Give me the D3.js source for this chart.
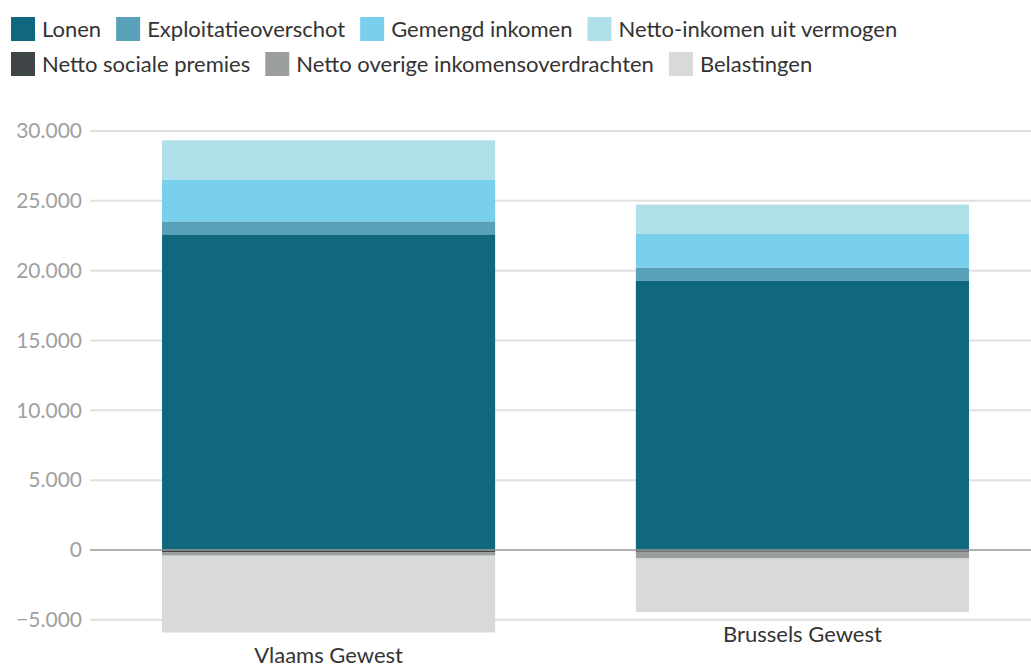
<!DOCTYPE html>
<html><head><meta charset="utf-8">
<script src="https://cdn.jsdelivr.net/npm/d3@7"></script>
<style>
body{margin:0;background:#fff;font-family:Lato,"Noto Sans",sans-serif;}
svg{display:block}
</style></head>
<body><svg id="c" width="1031" height="666"></svg>
<script>
const categories = ["Vlaams Gewest", "Brussels Gewest"];
const seriesNames = ["Lonen", "Exploitatieoverschot", "Gemengd inkomen", "Netto-inkomen uit vermogen", "Netto sociale premies", "Netto overige inkomensoverdrachten", "Belastingen"];
const lonen = [22600, 19300];
const exploitatieoverschot = [930, 930];
const gemengdInkomen = [3000, 2400];
const nettoInkomenVermogen = [2800, 2100];
const nettoSocialePremies = [-180, -130];
const nettoOverige = [-230, -480];
const belastingen = [-5500, -3840];
const yTicks = [-5000, 0, 5000, 10000, 15000, 20000, 25000, 30000];
const colors = ["#10687f", "#58a1b9", "#79d0ec", "#afdfe9", "#3f4447", "#9b9e9f", "#d8d9d9"];

const seriesValues = [lonen, exploitatieoverschot, gemengdInkomen, nettoInkomenVermogen, nettoSocialePremies, nettoOverige, belastingen];
const W = 1031, H = 666;
const svg = d3.select("#c");

const y = d3.scaleLinear().domain([-5000, 30000]).range([619.8, 131]);
const x = d3.scaleBand().domain(categories).range([90, 1041]).paddingInner(0.297).paddingOuter(0.152);
const fmt = v => d3.format(",")(v).replace(/,/g, ".").replace("-", "\u2212");

// gridlines
const g = svg.append("g");
g.selectAll("line.grid").data(yTicks.filter(t => t !== 0)).join("line")
  .attr("x1", 90).attr("x2", W).attr("y1", d => y(d)).attr("y2", d => y(d))
  .attr("stroke", "#e0e0e0").attr("stroke-width", 2);
g.selectAll("text.tick").data(yTicks).join("text")
  .attr("x", 82).attr("y", d => y(d)).attr("dy", "0.35em")
  .attr("text-anchor", "end").attr("fill", "#a0a0a0")
  .attr("font-size", 21).text(fmt);

// stacking
const stacks = categories.map((c, i) => {
  let pos = 0, neg = 0;
  return seriesValues.map((arr, s) => {
    const v = arr[i];
    let y0, y1;
    if (v >= 0) { y0 = pos; y1 = pos + v; pos = y1; } else { y0 = neg; y1 = neg + v; neg = y1; }
    return { cat: c, s, y0, y1 };
  });
});
const segs = stacks.flat();
svg.append("g").selectAll("rect").data(segs).join("rect")
  .attr("x", d => x(d.cat)).attr("width", x.bandwidth())
  .attr("y", d => y(Math.max(d.y0, d.y1)))
  .attr("height", d => Math.abs(y(d.y0) - y(d.y1)))
  .attr("fill", d => colors[d.s]);

// zero line
svg.append("line").attr("x1", 90).attr("x2", W).attr("y1", y(0)).attr("y2", y(0))
  .attr("stroke", "#999").attr("stroke-width", 1.5);

// category labels below negative stacks
svg.append("g").selectAll("text").data(categories).join("text")
  .attr("x", d => x(d) + x.bandwidth() / 2)
  .attr("y", (d, i) => y(d3.min(stacks[i], s => Math.min(s.y0, s.y1))) + 30)
  .attr("text-anchor", "middle").attr("fill", "#333").attr("font-size", 22)
  .text(d => d);

// legend (flow layout)
const lg = svg.append("g");
let lx = 11, ly = 17;
seriesNames.forEach((n, i) => {
  const item = lg.append("g");
  item.append("rect").attr("width", 24).attr("height", 24).attr("fill", colors[i]);
  const t = item.append("text").attr("x", 31).attr("y", 12).attr("dy", "0.35em")
    .attr("fill", "#333").attr("font-size", 22).text(n);
  const w = 31 + t.node().getComputedTextLength();
  if (lx + w > W - 5) { lx = 11; ly += 35; }
  item.attr("transform", `translate(${lx},${ly})`);
  lx += w + 15;
});
</script></body></html>
